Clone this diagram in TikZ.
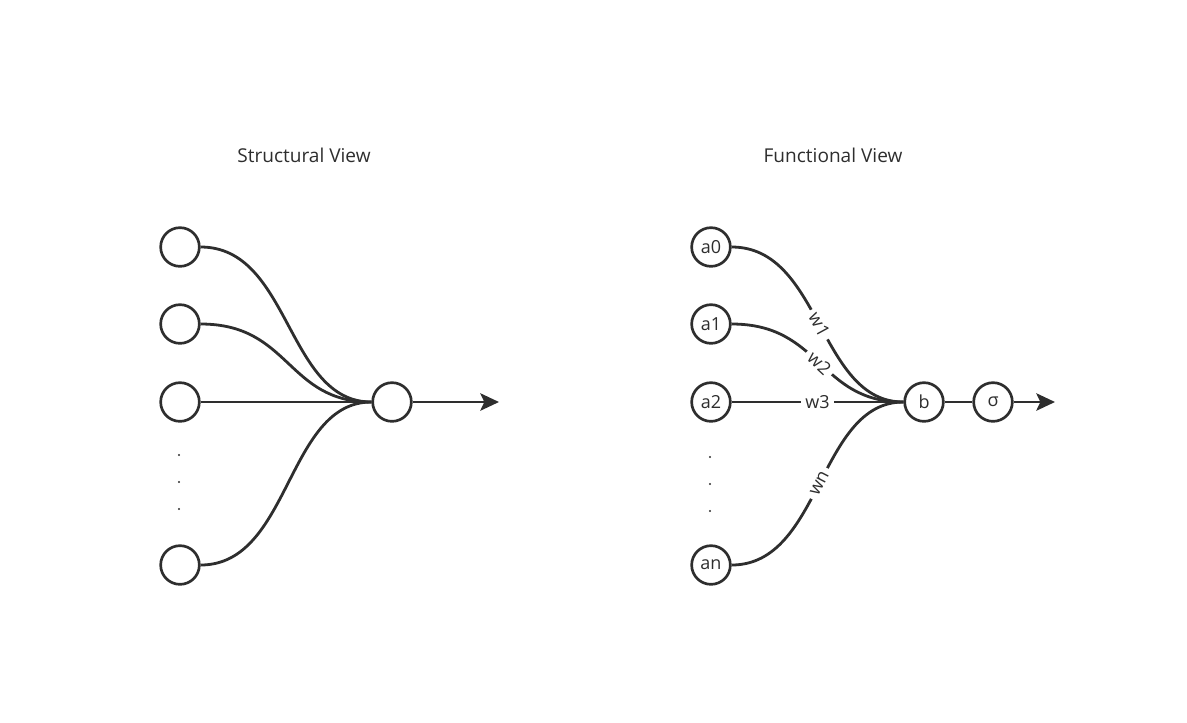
\documentclass[tikz,border=0pt]{standalone}
\usepackage{fontspec}
\setmainfont{Open Sans}
\usetikzlibrary{arrows.meta}
\definecolor{ink}{HTML}{2E2E2E}
\begin{document}
\begin{tikzpicture}[x=0.75pt,y=-0.75pt,
  neuron/.style={circle,draw=ink,line width=2pt,minimum size=29pt,inner sep=0pt,text=ink,font=\fontsize{13.5}{15}\selectfont},
  conn/.style={draw=ink,line width=2.1pt},
  wlabel/.style={sloped,fill=white,inner xsep=3.5pt,inner ysep=0pt,text=ink,font=\fontsize{13.5}{15}\selectfont},
  title/.style={text=ink,font=\fontsize{14.3}{16}\selectfont},
  outarrow/.style={conn,-{Stealth[length=14pt,width=13pt,inset=3pt]}},
  dotmark/.style={fill=ink,draw=none,circle,minimum size=1.8pt,inner sep=0pt}]
\useasboundingbox (0,0) rectangle (1187,722);
% titles
\node[title] (t1) at (304,155) {Structural View};
\node[title] (t2) at (833,155) {Functional View};
% structural view
\node[neuron] (s0) at (180,247) {};
\node[neuron] (s1) at (180,324) {};
\node[neuron] (s2) at (180,402) {};
\node[neuron] (sn) at (180,565) {};
\node[neuron] (so) at (392,402) {};
\coordinate (send) at (499,402);
\node[dotmark] (sd1) at (179,455) {};
\node[dotmark] (sd2) at (179,482) {};
\node[dotmark] (sd3) at (179,509) {};
\draw[conn] (s0.east) .. controls +(90,0) and +(-85,0) .. (so.west);
\draw[conn] (s1.east) .. controls +(90,0) and +(-85,0) .. (so.west);
\draw[conn] (s2.east) -- (so.west);
\draw[conn] (sn.east) .. controls +(90,0) and +(-85,0) .. (so.west);
\draw[outarrow] (so.east) -- (send);
% functional view
\node[neuron] (a0) at (711,247) {a0};
\node[neuron] (a1) at (711,324) {a1};
\node[neuron] (a2) at (711,402) {a2};
\node[neuron] (an) at (711,565) {an};
\node[neuron] (b) at (924,402) {b};
\node[neuron] (sg) at (993,402) {σ};
\coordinate (fend) at (1055,402);
\node[dotmark] (fd1) at (710,457) {};
\node[dotmark] (fd2) at (710,484) {};
\node[dotmark] (fd3) at (710,511) {};
\draw[conn] (a0.east) .. controls +(90,0) and +(-85,0) .. node[wlabel,pos=0.5] (w1) {w1} (b.west);
\draw[conn] (a1.east) .. controls +(90,0) and +(-85,0) .. node[wlabel,pos=0.5] (w2) {w2} (b.west);
\draw[conn] (a2.east) -- node[wlabel,pos=0.5] (w3) {w3} (b.west);
\draw[conn] (an.east) .. controls +(90,0) and +(-85,0) .. node[wlabel,pos=0.5] (wn) {wn} (b.west);
\draw[conn] (b.east) -- (sg.west);
\draw[outarrow] (sg.east) -- (fend);
\end{tikzpicture}
\end{document}
